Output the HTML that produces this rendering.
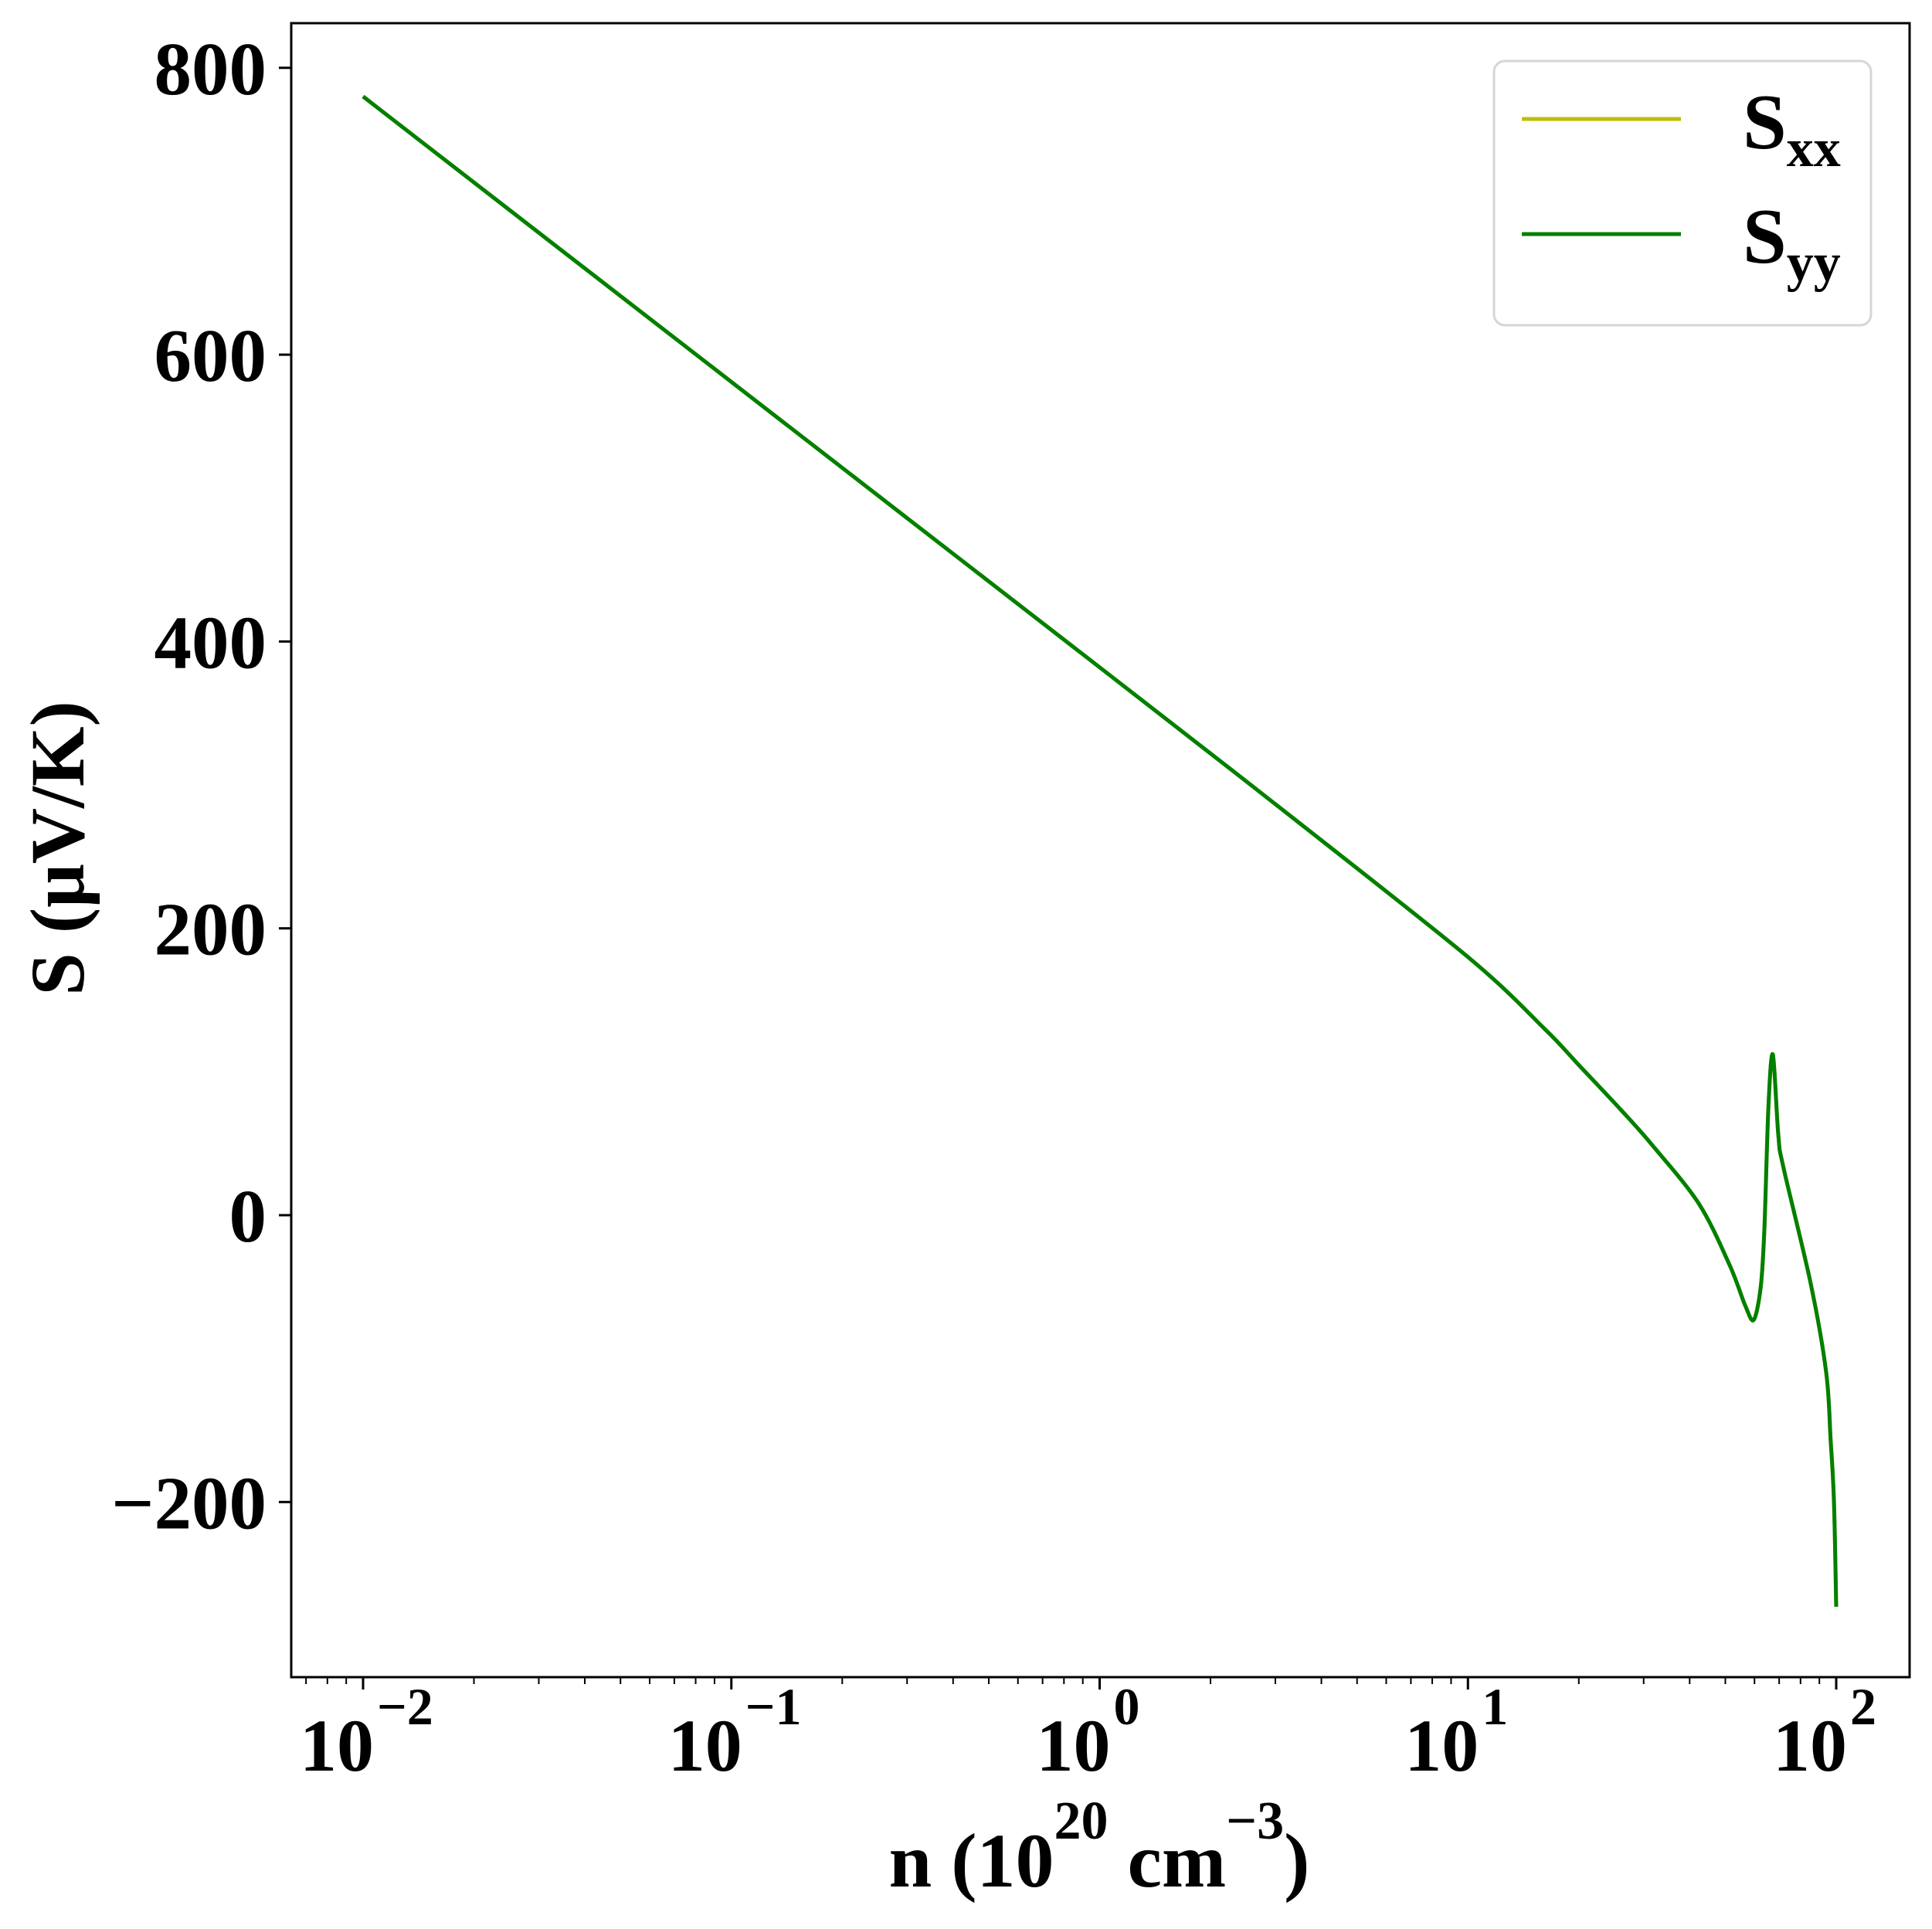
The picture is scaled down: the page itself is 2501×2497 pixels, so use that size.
<!DOCTYPE html>
<html><head><meta charset="utf-8"><style>
html,body{margin:0;padding:0;background:#fff;}
svg, svg text{font-family:"Liberation Serif","Times New Roman",serif;font-weight:bold;}
</style></head><body>
<svg id="chart" width="2501" height="2492" viewBox="0 0 2501 2492" xmlns="http://www.w3.org/2000/svg" font-family="Liberation Serif, serif" font-weight="bold">
<rect x="0" y="0" width="2501" height="2492" fill="#fff"/>
<g id="ticks"></g>
<g id="series"></g>
<rect x="377" y="30" width="2095" height="2141" fill="none" stroke="#000" stroke-width="3"/>
<g>
<rect x="1934" y="79" width="488" height="342" rx="14" fill="#fff" fill-opacity="0.8" stroke="#d6d6d6" stroke-width="3"/>
<line x1="1970" y1="154" x2="2176" y2="154" stroke="#bfbf00" stroke-width="5"/>
<text x="2256" y="192" font-size="102">S<tspan font-size="70" dy="23">xx</tspan></text>
<line x1="1970" y1="303" x2="2176" y2="303" stroke="#008000" stroke-width="5"/>
<text x="2256" y="340" font-size="102">S<tspan font-size="70" dy="23">yy</tspan></text>
</g>
<text x="1423" y="2442" font-size="100" text-anchor="middle">n (10<tspan font-size="70" dy="-62">20</tspan><tspan dy="62"> cm</tspan><tspan font-size="70" dy="-62">−3</tspan><tspan dy="62">)</tspan></text>
<text transform="translate(108,1098) rotate(-90)" font-size="100" text-anchor="middle">S (μV/K)</text>
</svg>
<script>
const logN = [-2, -1, 0, 0.5, 1.0, 1.208, 1.3, 1.417, 1.5, 1.627, 1.711, 1.753, 1.776, 1.795, 1.805, 1.816, 1.828, 1.843, 1.857, 1.931, 1.973, 1.985, 1.994, 2.0];
const sxx = [780, 581, 382, 282, 180, 130, 105, 73, 49, 8, -35, -63, -73, -50, -10, 76, 112, 55, 33, -48, -110, -157, -200, -273];
const syy = [780, 581, 382, 282, 180, 130, 105, 73, 49, 8, -35, -63, -73, -50, -10, 76, 112, 55, 33, -48, -110, -157, -200, -273];
const yTicks = [-200, 0, 200, 400, 600, 800];
const yTickLabels = ["−200", "0", "200", "400", "600", "800"];
const xDecades = [-2, -1, 0, 1, 2];
const xTickExps = ["−2", "−1", "0", "1", "2"];

const NS = "http://www.w3.org/2000/svg";
const X0 = 470, DEC = 476.75, Y0 = 1573, YS = 1.8565;
const L = 377, R = 2472, B = 2171;
function xs(l){ return X0 + (l + 2) * DEC; }
function ys(v){ return Y0 - v * YS; }
function mk(tag, attrs, parent){ const e = document.createElementNS(NS, tag); for (const k in attrs) e.setAttribute(k, attrs[k]); parent.appendChild(e); return e; }

const tg = document.getElementById('ticks');
yTicks.forEach((v, i) => {
  const t = mk('line', {x1: L - 16, x2: L, y1: ys(v), y2: ys(v), stroke: '#000', 'stroke-width': 3}, tg);
  
  
  const lb = mk('text', {x: 345, y: ys(v) + 34, 'font-size': 97, 'text-anchor': 'end'}, tg);
  lb.textContent = yTickLabels[i];
  
  
});
xDecades.forEach((d, i) => {
  const x = xs(d);
  const t = mk('line', {x1: x, x2: x, y1: B, y2: B + 16, stroke: '#000', 'stroke-width': 3}, tg);
  
  
  const lb = mk('text', {x: x - 34, y: 2292, 'font-size': 96, 'text-anchor': 'middle'}, tg);
  lb.textContent = '10';
  
  
  const sp = mk('text', {x: x + 18, y: 2232, 'font-size': 68, 'text-anchor': 'start'}, tg);
  sp.textContent = xTickExps[i];
  
  
});
for (let d = -3; d <= 2; d++) {
  for (let m = 2; m <= 9; m++) {
    const x = xs(d + Math.log10(m));
    if (x < L || x > R) continue;
    const t = mk('line', {x1: x, x2: x, y1: B, y2: B + 9, stroke: '#000', 'stroke-width': 2}, tg);
    
    
  }
}
const sg = document.getElementById('series');
function drawSeries(vals, color, name){
  const P = logN.map((l, i) => [xs(l), ys(vals[i])]);
  let d = 'M' + P[0][0].toFixed(1) + ',' + P[0][1].toFixed(1);
  for (let i = 0; i < P.length - 1; i++) {
    const p0 = P[Math.max(0, i - 1)], p1 = P[i], p2 = P[i + 1], p3 = P[Math.min(P.length - 1, i + 2)];
    const t = 0.16;
    const c1 = [p1[0] + (p2[0] - p0[0]) * t, p1[1] + (p2[1] - p0[1]) * t];
    const c2 = [p2[0] - (p3[0] - p1[0]) * t, p2[1] - (p3[1] - p1[1]) * t];
    d += ' C' + c1[0].toFixed(1) + ',' + c1[1].toFixed(1) + ' ' + c2[0].toFixed(1) + ',' + c2[1].toFixed(1) + ' ' + p2[0].toFixed(1) + ',' + p2[1].toFixed(1);
  }
  const p = mk('path', {d: d, fill: 'none', stroke: color, 'stroke-width': 5, 'stroke-linejoin': 'round'}, sg);
  
  
}
drawSeries(sxx, '#bfbf00', 'series-sxx');
drawSeries(syy, '#008000', 'series-syy');
</script>
</body></html>
